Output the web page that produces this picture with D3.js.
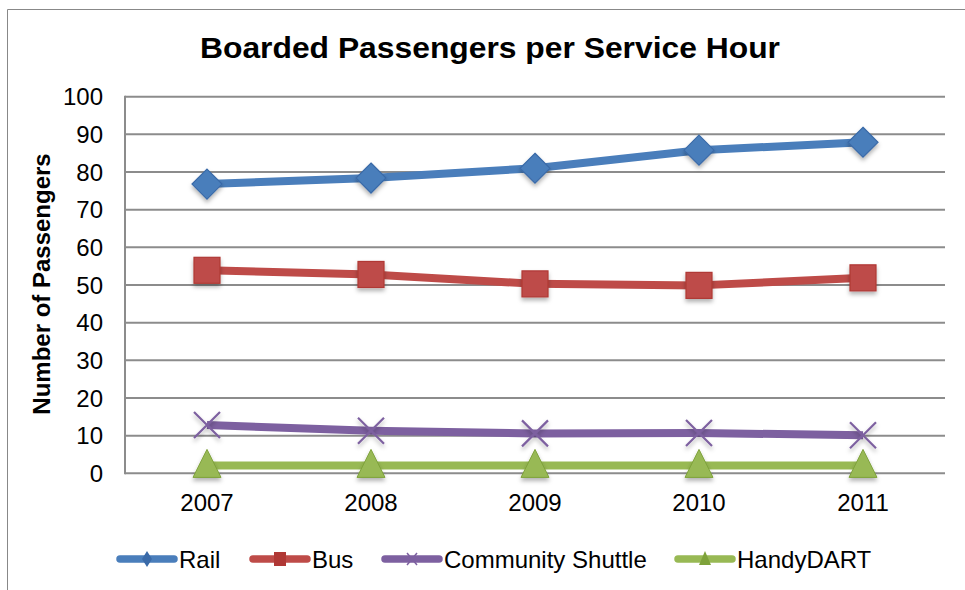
<!DOCTYPE html>
<html><head><meta charset="utf-8">
<script src="https://cdn.jsdelivr.net/npm/d3@7"></script>
<style>body{margin:0;background:#fff;}svg{display:block;font-family:Arial,"Liberation Sans",sans-serif;}</style>
</head><body><svg id="c" width="965" height="590"></svg>
<script>
const years = ["2007","2008","2009","2010","2011"];
const rail = [76.8, 78.4, 81.0, 85.8, 87.9];
const bus = [53.9, 52.8, 50.3, 49.9, 51.9];
const shuttle = [12.8, 11.3, 10.6, 10.7, 10.1];
const handy = [2.1, 2.1, 2.1, 2.1, 2.1];
const yTicks = [0,10,20,30,40,50,60,70,80,90,100];
const seriesNames = ["Rail","Bus","Community Shuttle","HandyDART"];

const series = [
  {name: seriesNames[0], values: rail, color: "#4A7EBB", dark:"#3A6AA8", marker: "diamond"},
  {name: seriesNames[1], values: bus, color: "#BE4B48", dark:"#B03835", marker: "square"},
  {name: seriesNames[2], values: shuttle, color: "#7D60A0", dark:"#7D60A0", marker: "x"},
  {name: seriesNames[3], values: handy, color: "#98B954", dark:"#7EA23A", marker: "triangle"}
];

const svg = d3.select("#c");
const defs = svg.append("defs");
const f = defs.append("filter").attr("id","sh").attr("x","-50%").attr("y","-50%").attr("width","200%").attr("height","200%");
f.append("feDropShadow").attr("dx",0).attr("dy",3).attr("stdDeviation",2).attr("flood-color","#000").attr("flood-opacity",0.3);

// outer frame
svg.append("path").attr("d","M7.5,590 V9.5 H965").attr("fill","none").attr("stroke","#888").attr("stroke-width",1);

const L = 125, R = 945, T = 96.7, B = 473.3;
const x = d3.scaleBand().domain(years).range([L, R]);
const y = d3.scaleLinear().domain([0,100]).range([B, T]);
const cx = d => x(d) + x.bandwidth()/2;

// gridlines
svg.append("g").selectAll("line").data(yTicks).join("line")
  .attr("x1", L).attr("x2", R).attr("y1", d=>y(d)).attr("y2", d=>y(d))
  .attr("stroke","#8c8c8c").attr("stroke-width",2);
// y axis line
svg.append("line").attr("x1",L).attr("x2",L).attr("y1",T-1).attr("y2",B+1).attr("stroke","#8c8c8c").attr("stroke-width",2);

// y tick labels
svg.append("g").selectAll("text").data(yTicks).join("text")
  .attr("x", 103).attr("y", d=>y(d)).attr("dy","0.36em").attr("text-anchor","end")
  .attr("font-size",24).attr("fill","#000").text(d=>d);
// x tick labels
svg.append("g").selectAll("text").data(years).join("text")
  .attr("x", d=>cx(d)).attr("y", 511).attr("text-anchor","middle")
  .attr("font-size",24).attr("fill","#000").text(d=>d);

// title
svg.append("text").attr("x",490).attr("y",58).attr("text-anchor","middle")
  .attr("font-size",29.5).attr("font-weight","bold")
  .attr("textLength",580).attr("lengthAdjust","spacingAndGlyphs")
  .text("Boarded Passengers per Service Hour");
// y label
svg.append("text").attr("transform","translate(50,284) rotate(-90)").attr("text-anchor","middle")
  .attr("font-size",24).attr("font-weight","bold").text("Number of Passengers");

function drawMarker(g, type, px, py, s, c) {
  const h = s/2;
  if (type==="diamond") {
    g.append("path").attr("d",`M${px},${py-h-2}L${px+h+2},${py}L${px},${py+h+2}L${px-h-2},${py}Z`)
      .attr("fill",c.color).attr("stroke",c.dark).attr("stroke-width",1.2).attr("filter","url(#sh)");
  } else if (type==="square") {
    g.append("rect").attr("x",px-h).attr("y",py-h).attr("width",s).attr("height",s)
      .attr("fill",c.color).attr("stroke",c.dark).attr("stroke-width",1.2).attr("filter","url(#sh)");
  } else if (type==="x") {
    g.append("path").attr("d",`M${px-h},${py-h}L${px+h},${py+h}M${px-h},${py+h}L${px+h},${py-h}`)
      .attr("stroke",c.color).attr("stroke-width",2.2).attr("fill","none").attr("filter","url(#sh)");
  } else if (type==="triangle") {
    g.append("path").attr("d",`M${px},${py-h-3}L${px+h+1},${py+h-1}L${px-h-1},${py+h-1}Z`)
      .attr("fill",c.color).attr("stroke",c.dark).attr("stroke-width",1).attr("filter","url(#sh)");
  }
}

const line = d3.line().x((d,i)=>cx(years[i])).y(d=>y(d));
series.forEach(s => {
  const g = svg.append("g");
  g.append("path").attr("d", line(s.values)).attr("fill","none")
    .attr("stroke", s.color).attr("stroke-width", 8).attr("stroke-linejoin","round");
  s.values.forEach((v,i) => drawMarker(g, s.marker, cx(years[i]), y(v), 26, s));
});

// legend
const legX = [117, 250, 382, 675];
series.forEach((s,i) => {
  const g = svg.append("g");
  const x0 = legX[i], ly = 559, w = 60;
  g.append("line").attr("x1",x0+3).attr("x2",x0+w-3).attr("y1",ly).attr("y2",ly)
    .attr("stroke",s.color).attr("stroke-width",7.5).attr("stroke-linecap","round");
  const mx = x0+w/2;
  if (s.marker==="diamond") g.append("path").attr("d",`M${mx},${ly-8}L${mx+5},${ly}L${mx},${ly+8}L${mx-5},${ly}Z`).attr("fill",s.dark);
  if (s.marker==="square") g.append("rect").attr("x",mx-6).attr("y",ly-7).attr("width",12).attr("height",14).attr("fill",s.dark);
  if (s.marker==="x") g.append("path").attr("d",`M${mx-5},${ly-6}L${mx+5},${ly+6}M${mx-5},${ly+6}L${mx+5},${ly-6}`).attr("stroke",s.dark).attr("stroke-width",1.5);
  if (s.marker==="triangle") g.append("path").attr("d",`M${mx},${ly-8}L${mx+6},${ly+6}L${mx-6},${ly+6}Z`).attr("fill",s.dark);
  g.append("text").attr("x",x0+w+2).attr("y",568).attr("font-size",24).text(s.name);
});
</script></body></html>
